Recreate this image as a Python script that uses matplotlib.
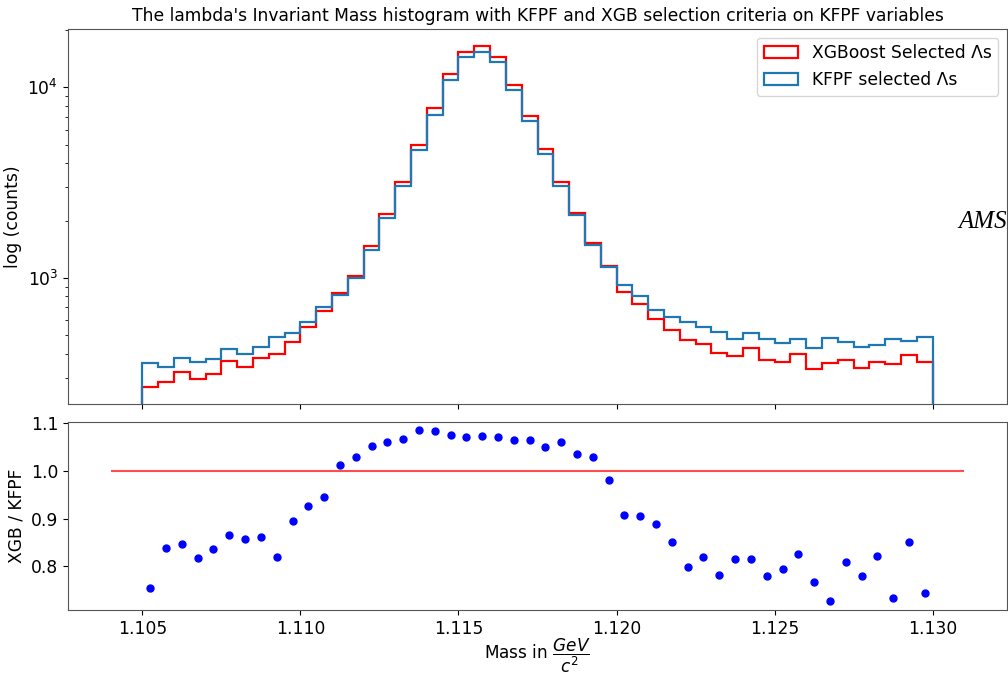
import matplotlib
matplotlib.use('Agg')
import matplotlib.pyplot as plt
import numpy as np

# histogram binning: 50 bins between 1.105 and 1.130 GeV/c^2
bin_edges = np.linspace(1.105, 1.130, 51)
bin_centers = 0.5 * (bin_edges[:-1] + bin_edges[1:])

xgb_counts = [
    268, 285, 320, 295, 313, 368, 342, 380, 400, 460,
    550, 670, 832, 1030, 1465, 2174, 3170, 5010, 7760, 11800,
    15420, 16480, 14490, 10240, 7050, 4730, 3206, 2198, 1524, 1156,
    845, 731, 606, 532, 472, 448, 406, 391, 427, 371,
    361, 397, 331, 356, 371, 338, 363, 352, 394, 363,
]
kfpf_counts = [
    356, 340, 380, 363, 375, 422, 399, 435, 490, 513,
    589, 708, 818, 1000, 1396, 2055, 3020, 4670, 7200, 10930,
    14360, 15380, 13520, 9690, 6640, 4480, 3020, 2128, 1495, 1142,
    923, 809, 677, 625, 589, 550, 521, 477, 517, 477,
    454, 477, 430, 487, 462, 435, 443, 477, 468, 491,
]
ratio = [
    0.755, 0.838, 0.846, 0.817, 0.836, 0.866, 0.857, 0.862, 0.820, 0.894,
    0.927, 0.945, 1.013, 1.029, 1.053, 1.060, 1.068, 1.085, 1.083, 1.076,
    1.071, 1.073, 1.071, 1.066, 1.066, 1.050, 1.060, 1.036, 1.029, 0.980,
    0.908, 0.906, 0.888, 0.850, 0.799, 0.820, 0.782, 0.816, 0.816, 0.780,
    0.794, 0.825, 0.766, 0.726, 0.808, 0.780, 0.822, 0.734, 0.850, 0.744,
]
ref_line_x = [1.104, 1.131]

FS = 12.3
plt.rcParams['font.size'] = FS

fig = plt.figure(figsize=(10.08, 6.74), dpi=100)
ax_top = fig.add_axes([0.0675, 0.4006, 0.9315, 0.5564])
ax_bot = fig.add_axes([0.0675, 0.095, 0.9315, 0.279], sharex=ax_top)

ax_top.hist(bin_centers, bins=bin_edges, weights=xgb_counts, histtype='step',
            log=True, color='red', lw=1.6, label='XGBoost Selected Λs')
ax_top.hist(bin_centers, bins=bin_edges, weights=kfpf_counts, histtype='step',
            log=True, color='#1f77b4', lw=1.6, label='KFPF selected Λs')
ax_top.set_ylabel('log (counts)')
ax_top.set_title("The lambda's Invariant Mass histogram with KFPF and XGB selection criteria on KFPF variables",
                 fontsize=FS)
ax_top.legend(loc='upper right')
ax_top.tick_params(labelbottom=False)

ax_bot.plot(bin_centers, ratio, 'o', color='blue', ms=5)
ax_bot.hlines(1.0, ref_line_x[0], ref_line_x[1], color='red', alpha=0.7, lw=1.5)
ax_bot.set_ylabel('XGB / KFPF')
ax_bot.set_xlabel(r'Mass in $\dfrac{GeV}{c^2}$', fontsize=12.2)
ax_bot.xaxis.set_label_coords(0.5, -0.14)
ax_bot.set_xticks([1.105, 1.110, 1.115, 1.120, 1.125, 1.130])

for ax in (ax_top, ax_bot):
    for sp in ax.spines.values():
        sp.set_color('#555555')

fig.text(0.999, 1 - 222 / 674, 'AMS', ha='right', va='center',
         family='Liberation Serif', style='italic', fontsize=18)

fig.savefig('out.png', dpi=100)
